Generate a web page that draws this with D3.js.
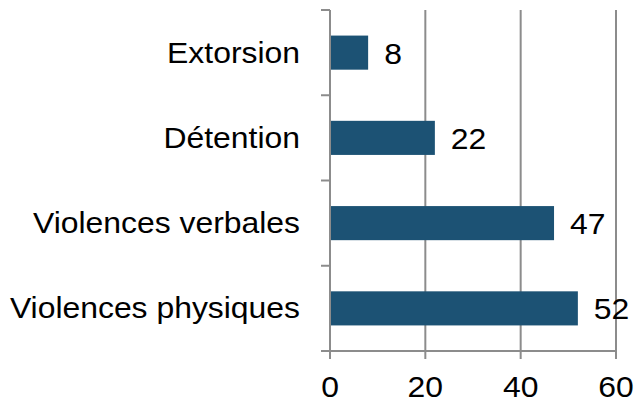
<!DOCTYPE html>
<html>
<head>
<meta charset="utf-8">
<script src="https://cdn.jsdelivr.net/npm/d3@7"></script>
<style>
  body { margin: 0; background: #fff; }
  text { font-family: "Liberation Sans", Arial, sans-serif; fill: #000; }
</style>
</head>
<body>
<script>
const categories = ["Extorsion", "Détention", "Violences verbales", "Violences physiques"];
const values = [8, 22, 47, 52];
const xTicks = [0, 20, 40, 60];

const width = 636;
const height = 401;
const margin = { top: 10, right: 20, bottom: 51, left: 330 };
const barColor = "#1c5274";
const gridColor = "#8c8c8c";
const fontSize = 29;
const stretch = 1.1;

const svg = d3
  .select("body")
  .append("svg")
  .attr("width", width)
  .attr("height", height);

const xScale = d3.scaleLinear().domain([0, 60]).range([margin.left, 616]);
const yScale = d3
  .scaleBand()
  .domain(categories)
  .range([margin.top, height - margin.bottom + 1])
  .paddingInner(0.6)
  .paddingOuter(0.3);
const bottom = height - margin.bottom + 1;

// gridlines
svg
  .append("g")
  .selectAll("line")
  .data(xTicks.slice(1))
  .enter()
  .append("line")
  .attr("x1", (d) => xScale(d))
  .attr("x2", (d) => xScale(d))
  .attr("y1", margin.top)
  .attr("y2", bottom + 8)
  .attr("stroke", gridColor)
  .attr("stroke-width", 2);

// bars
svg
  .append("g")
  .selectAll("rect")
  .data(values)
  .enter()
  .append("rect")
  .attr("x", xScale(0))
  .attr("y", (d, i) => yScale(categories[i]))
  .attr("width", (d) => xScale(d) - xScale(0))
  .attr("height", yScale.bandwidth())
  .attr("fill", barColor);

// stretched text helper
const addText = (x, y, str, anchor) => {
  svg
    .append("g")
    .attr("transform", `translate(${x}, ${y}) scale(${stretch}, 1)`)
    .append("text")
    .attr("text-anchor", anchor)
    .style("font-size", `${fontSize}px`)
    .text(str);
};

// value labels
values.forEach((v, i) => {
  const cy = yScale(categories[i]) + yScale.bandwidth() / 2;
  addText(xScale(v) + 16, cy + 11, v, "start");
});

// category labels
const step = yScale.step();
categories.forEach((c) => {
  const cy = yScale(c) + yScale.bandwidth() / 2;
  addText(margin.left - 30, cy + 10, c, "end");
});

// y axis line and ticks at band boundaries
svg
  .append("line")
  .attr("x1", margin.left)
  .attr("x2", margin.left)
  .attr("y1", margin.top)
  .attr("y2", bottom)
  .attr("stroke", gridColor)
  .attr("stroke-width", 2);

const boundaries = categories.map((c) => yScale(c) - (step - yScale.bandwidth()) / 2);
boundaries.push(bottom);
svg
  .append("g")
  .selectAll("line")
  .data(boundaries)
  .enter()
  .append("line")
  .attr("x1", margin.left - 9)
  .attr("x2", margin.left)
  .attr("y1", (d) => d)
  .attr("y2", (d) => d)
  .attr("stroke", gridColor)
  .attr("stroke-width", 2);

// x axis line, ticks, labels
svg
  .append("line")
  .attr("x1", margin.left)
  .attr("x2", xScale(60))
  .attr("y1", bottom)
  .attr("y2", bottom)
  .attr("stroke", gridColor)
  .attr("stroke-width", 2);

svg
  .append("line")
  .attr("x1", margin.left)
  .attr("x2", margin.left)
  .attr("y1", bottom)
  .attr("y2", bottom + 8)
  .attr("stroke", gridColor)
  .attr("stroke-width", 2);

xTicks.forEach((t) => addText(xScale(t), 397, t, "middle"));
</script>
</body>
</html>
